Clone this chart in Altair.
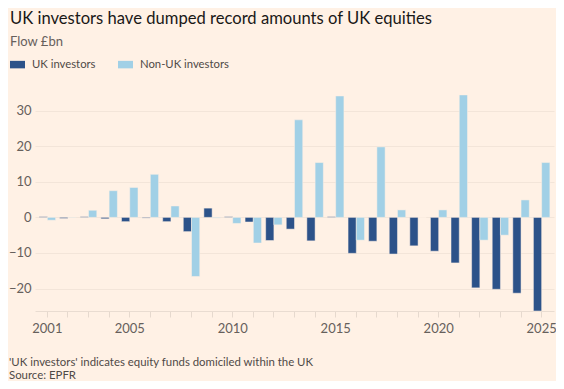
import altair as alt
import pandas as pd

# ---- data ----
years = [str(y) for y in range(2001, 2026)]
uk_investors = [0.2, -0.3, 0.2, -0.4, -1.2, -0.2, -1.2, -4.0, 2.6, 0.2,
                -1.3, -6.5, -3.3, -6.6, 0.2, -10.1, -6.7, -10.3, -8.0, -9.5,
                -12.8, -19.8, -20.2, -21.3, -26.3]
non_uk_investors = [-0.8, 0.1, 2.0, 7.5, 8.4, 12.1, 3.2, -16.6, -0.2, -1.7,
                    -7.2, -2.1, 27.4, 15.4, 34.1, -6.4, 19.8, 2.1, 0.0, 2.1,
                    34.4, -6.4, -5.0, 4.9, 15.4]
series_names = ["UK investors", "Non-UK investors"]
label_years = ["2001", "2005", "2010", "2015", "2020", "2025"]
y_ticks = [-20, -10, 0, 10, 20, 30]
title_text = "UK investors have dumped record amounts of UK equities"
subtitle_text = "Flow £bn"
footnote_1 = "'UK investors' indicates equity funds domiciled within the UK"
footnote_2 = "Source: EPFR"

rows = []
for y, a, b in zip(years, uk_investors, non_uk_investors):
    rows.append({"year": y, "series": series_names[0], "value": a})
    rows.append({"year": y, "series": series_names[1], "value": b})
df = pd.DataFrame(rows)

BG = "#FFF1E5"
FONT = "Lato"
GREY = "#66605C"
TEXT = "#4F4A47"
DARK = "#2C5289"
LIGHT = "#A1D0E6"

label_expr = "indexof(" + str(label_years) + ", datum.label) >= 0 ? datum.label : ''"

bars = alt.Chart(df).mark_bar(stroke=BG, strokeWidth=0.5).encode(
    x=alt.X("year:O",
            scale=alt.Scale(paddingInner=0.2, paddingOuter=0.2),
            axis=alt.Axis(title=None, labelAngle=0, labelExpr=label_expr,
                          tickColor="#E6D9CE", tickSize=6, domainColor="#E9DCD1",
                          labelFontSize=13, labelColor=GREY, labelFont=FONT,
                          labelPadding=5, grid=False)),
    xOffset=alt.XOffset("series:N", sort=series_names),
    y=alt.Y("value:Q",
            scale=alt.Scale(domain=[-26.3, 35.5], nice=False),
            axis=alt.Axis(title=None, values=y_ticks, grid=True, gridColor="#F3E5D9",
                          domain=False, ticks=False, labelFontSize=13,
                          labelColor=GREY, labelFont=FONT, labelPadding=4)),
    color=alt.Color("series:N",
                    scale=alt.Scale(domain=series_names, range=[DARK, LIGHT]),
                    legend=alt.Legend(title=None, orient="none", legendX=-25, legendY=-34,
                                      direction="horizontal",
                                      symbolType="M-1,-0.5H1V0.5H-1Z", symbolSize=225,
                                      symbolStrokeWidth=0, labelFontSize=11.3,
                                      labelFont=FONT, labelColor=TEXT,
                                      columnPadding=22, labelOffset=7, padding=0)),
)


def text_layer(txt, x, y, size, color):
    return alt.Chart(pd.DataFrame({"t": [txt]})).mark_text(
        align="left", baseline="alphabetic", fontSize=size, font=FONT, color=color
    ).encode(x=alt.value(x), y=alt.value(y), text="t:N")


title = text_layer(title_text, -25, -67, 16.6, "#1A1817")
subtitle = text_layer(subtitle_text, -25, -45, 13, GREY)
foot1 = text_layer(footnote_1, -26, 275, 11.4, TEXT)
foot2 = text_layer(footnote_2, -26, 288, 11.4, TEXT)

chart = alt.layer(bars, title, subtitle, foot1, foot2).properties(
    width=519, height=220,
    padding={"left": 27, "top": 83, "right": 2, "bottom": 70},
    autosize=alt.AutoSizeParams(type="none"),
    background=BG,
).configure_view(stroke=None)

chart.save("out.html", embed_options={"renderer": "svg", "actions": False})
